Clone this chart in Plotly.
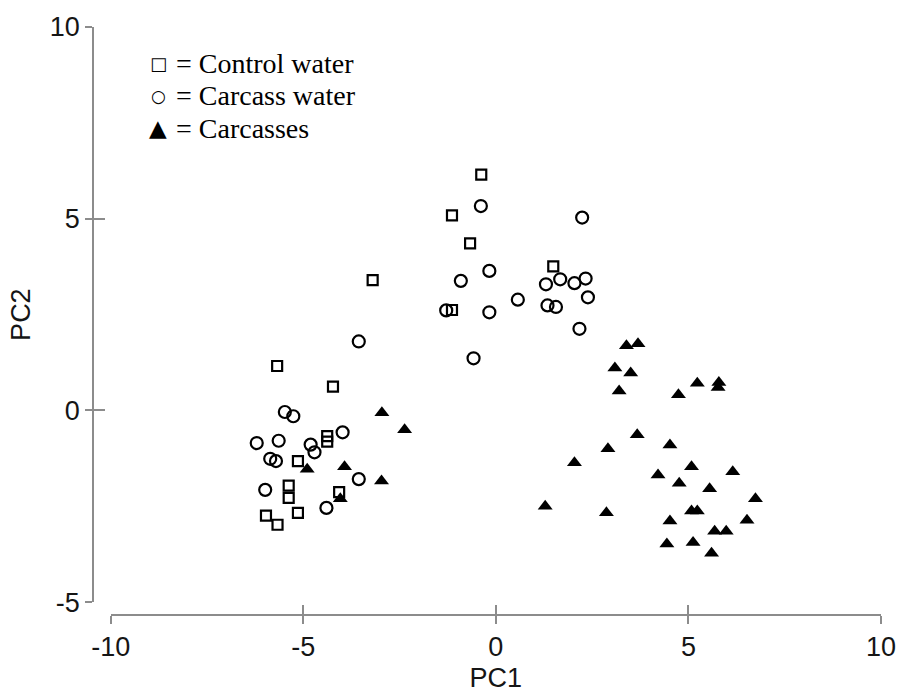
import plotly.graph_objects as go

# ---- data ----
control_water_pc1 = [-3.2, -5.68, -4.23, -4.38, -4.38, -5.14, -5.38, -5.38, -4.07, -5.14, -5.97, -5.67,
                     -0.38, -1.14, -0.67, 1.49, -1.14]
control_water_pc2 = [3.4, 1.16, 0.62, -0.67, -0.81, -1.32, -1.96, -2.28, -2.13, -2.67, -2.74, -2.98,
                     6.15, 5.09, 4.36, 3.76, 2.62]

carcass_water_pc1 = [-3.56, -5.48, -5.26, -6.21, -5.64, -3.98, -4.81, -4.71, -5.86, -5.71, -3.56, -5.99, -4.40,
                     -0.39, 2.24, -0.17, -0.91, 1.67, 1.30, 2.04, 2.33, 2.39, 0.57, 1.34, 1.56, -1.29,
                     -0.17, 2.17, -0.58]
carcass_water_pc2 = [1.80, -0.04, -0.15, -0.85, -0.79, -0.57, -0.89, -1.09, -1.26, -1.32, -1.79, -2.07, -2.54,
                     5.33, 5.03, 3.64, 3.38, 3.42, 3.29, 3.32, 3.44, 2.95, 2.89, 2.74, 2.70, 2.61,
                     2.56, 2.13, 1.36]

carcasses_pc1 = [-2.96, -2.37, -4.90, -3.93, -2.97, -4.04,
                 3.39, 3.69, 3.09, 3.50, 3.20, 4.74, 5.23, 5.79, 5.77, 3.67, 2.91, 4.52, 2.04, 5.08,
                 4.21, 6.15, 4.76, 5.55, 6.74, 5.08, 5.23, 4.52, 6.52, 5.68, 5.98, 4.44, 5.12, 5.60,
                 1.28, 2.87]
carcasses_pc2 = [-0.06, -0.50, -1.53, -1.47, -1.84, -2.30,
                 1.69, 1.74, 1.11, 0.98, 0.51, 0.41, 0.71, 0.73, 0.60, -0.63, -1.00, -0.90, -1.36, -1.47,
                 -1.68, -1.60, -1.90, -2.04, -2.30, -2.62, -2.62, -2.88, -2.86, -3.15, -3.15, -3.48, -3.44, -3.72,
                 -2.50, -2.67]

x_ticks = [-10, -5, 0, 5, 10]
x_tick_text = ["-10", "-5", "0", "5", "10"]
y_ticks = [-5, 0, 5, 10]
y_tick_text = ["-5", "0", "5", "10"]
legend_symbols = ["□", "○", "▲"]
legend_labels = ["= Control water", "= Carcass water", "= Carcasses"]

# ---- layout geometry ----
W, H = 908, 699
ML, MR, MT, MB = 93, 17, 21, 80
PW, PH = W - ML - MR, H - MT - MB


def fx(p):
    return (p - ML) / PW


def fy(p):
    return (H - MB - p) / PH


AX = "#8c8c8c"
TICKFONT = dict(family="Arial, Liberation Sans, sans-serif", size=27, color="#151515")

fig = go.Figure()
fig.add_trace(go.Scatter(
    x=control_water_pc1, y=control_water_pc2, mode="markers", name="Control water",
    marker=dict(symbol="square-open", size=10, color="black", line=dict(width=2.2, color="black"))))
fig.add_trace(go.Scatter(
    x=carcass_water_pc1, y=carcass_water_pc2, mode="markers", name="Carcass water",
    marker=dict(symbol="circle-open", size=12, color="black", line=dict(width=2.2, color="black"))))
fig.add_trace(go.Scatter(
    x=carcasses_pc1, y=carcasses_pc2, mode="markers", name="Carcasses",
    marker=dict(symbol="triangle-up", size=13, color="black", line=dict(width=0))))
# helper (empty) trace for the inner half of the crossing ticks
fig.add_trace(go.Scatter(x=[], y=[], xaxis="x2", yaxis="y2", showlegend=False, hoverinfo="skip"))

xdom = [fx(111), 1]
ydom = [fy(606), 1]

common = dict(showgrid=False, zeroline=False, anchor="free", position=0)
fig.update_layout(
    width=W, height=H, margin=dict(l=ML, r=MR, t=MT, b=MB),
    paper_bgcolor="white", plot_bgcolor="white", showlegend=False,
    xaxis=dict(domain=xdom, range=[-10, 10], tickvals=x_ticks, ticktext=x_tick_text,
               ticks="outside", ticklen=8,
               tickwidth=1.5, tickcolor=AX, showline=True, linecolor=AX, linewidth=1.5,
               tickfont=TICKFONT,
               title=dict(text="PC1", font=TICKFONT, standoff=6), **common),
    yaxis=dict(domain=ydom, range=[-5, 10], tickvals=y_ticks, ticktext=y_tick_text,
               ticks="outside", ticklen=7,
               tickwidth=1.5, tickcolor=AX, showline=True, linecolor=AX, linewidth=1.5,
               tickfont=TICKFONT,
               title=dict(text="PC2", font=TICKFONT, standoff=10), **common),
    xaxis2=dict(domain=xdom, range=[-10, 10], tickvals=x_ticks, ticks="inside", ticklen=10,
                tickwidth=1.5, tickcolor=AX, showticklabels=False, showline=False,
                overlaying="x", **common),
    yaxis2=dict(domain=ydom, range=[-5, 10], tickvals=y_ticks, ticks="inside", ticklen=11,
                tickwidth=1.5, tickcolor=AX, showticklabels=False, showline=False,
                overlaying="y", **common),
)

# legend drawn as text, as in the reference
rows_px = [58, 91, 124]
sym_sizes = [18, 17, 23]
for sym, lab, py, ss in zip(legend_symbols, legend_labels, rows_px, sym_sizes):
    fig.add_annotation(xref="paper", yref="paper", x=fx(159), y=fy(py), text=sym, showarrow=False,
                       xanchor="center", yanchor="middle",
                       font=dict(family="DejaVu Sans", size=ss, color="black"))
    fig.add_annotation(xref="paper", yref="paper", x=fx(175), y=fy(py), text=lab, showarrow=False,
                       xanchor="left", yanchor="middle",
                       font=dict(family="Liberation Serif, Times New Roman, serif", size=28, color="black"))

fig.write_html("out.html")
